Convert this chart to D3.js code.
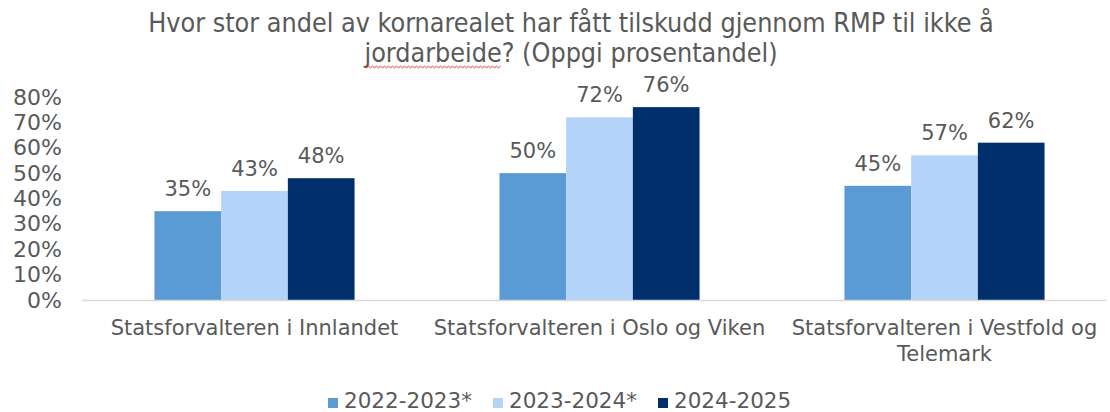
<!DOCTYPE html>
<html>
<head>
<meta charset="utf-8">
<script src="https://cdn.jsdelivr.net/npm/d3@7"></script>
<style>
  body { margin: 0; background: #fff; }
  svg text { font-family: "DejaVu Sans", Verdana, sans-serif; fill: #595959; }
</style>
</head>
<body>
<div id="chart"></div>
<script>
const categories = [
  ["Statsforvalteren i Innlandet"],
  ["Statsforvalteren i Oslo og Viken"],
  ["Statsforvalteren i Vestfold og", "Telemark"]
];
const seriesNames = ["2022-2023*", "2023-2024*", "2024-2025"];
const seriesValues = [
  [35, 50, 45],
  [43, 72, 57],
  [48, 76, 62]
];
const yTicks = [0, 10, 20, 30, 40, 50, 60, 70, 80];
const COLORS = ["#5B9BD5", "#B4D3F8", "#002F6C"];

const W = 1110, H = 412;
const svg = d3.select("#chart").append("svg")
  .attr("width", W).attr("height", H);

// title
const titleFont = "'DejaVu Sans Condensed', 'DejaVu Sans', sans-serif";
const title = svg.append("g").attr("class", "title");
title.append("text")
  .attr("x", 571).attr("y", 32)
  .attr("text-anchor", "middle")
  .attr("font-size", 26.7)
  .style("font-stretch", "condensed")
  .style("font-family", titleFont)
  .text("Hvor stor andel av kornarealet har fått tilskudd gjennom RMP til ikke å");
const t2 = title.append("text")
  .attr("x", 571).attr("y", 62)
  .attr("text-anchor", "middle")
  .attr("font-size", 26.7)
  .style("font-stretch", "condensed")
  .style("font-family", titleFont);
const word = t2.append("tspan").text("jordarbeide");
t2.append("tspan").text("? (Oppgi prosentandel)");

// spell-check squiggle under "jordarbeide"
const full = t2.node().getBBox();
const wLen = word.node().getComputedTextLength();
const sx = full.x, sy = 67;
let sq = `M${sx},${sy}`;
for (let i = 0; i * 2 < wLen; i++) sq += ` L${sx + i * 2 + 1},${sy + (i % 2 ? 1.2 : -1.2)}`;
svg.append("path").attr("d", sq).attr("fill", "none")
  .attr("stroke", "#E04040").attr("stroke-width", 0.9);

const y = d3.scaleLinear().domain([0, 80]).range([300, 97]);
const x0 = d3.scaleBand().domain(d3.range(categories.length))
  .range([82, 1117]).paddingInner(0.42).paddingOuter(0.21);
const x1 = d3.scaleBand().domain(d3.range(seriesNames.length))
  .range([0, x0.bandwidth()]);

// y axis labels
const yAxis = svg.append("g").attr("transform", "translate(62,0)")
  .call(d3.axisLeft(y).tickValues(yTicks).tickSize(0).tickPadding(0).tickFormat(d => d + "%"));
yAxis.select(".domain").remove();
yAxis.selectAll("text").attr("font-size", 22)
  .style("font-family", "'DejaVu Sans', sans-serif").attr("fill", "#595959");

// bars
seriesNames.forEach((s, si) => {
  const g = svg.append("g");
  g.selectAll("rect").data(seriesValues[si]).join("rect")
    .attr("x", (d, i) => x0(i) + x1(si))
    .attr("width", x1.bandwidth())
    .attr("y", d => y(d))
    .attr("height", d => y(0) - y(d))
    .attr("fill", COLORS[si]);
  g.selectAll("text").data(seriesValues[si]).join("text")
    .attr("x", (d, i) => x0(i) + x1(si) + x1.bandwidth() / 2)
    .attr("y", d => y(d) - 15)
    .attr("text-anchor", "middle")
    .attr("font-size", 21)
    .text(d => d + "%");
});

// baseline
svg.append("line")
  .attr("x1", 82).attr("x2", 1106)
  .attr("y1", y(0) + 0.5).attr("y2", y(0) + 0.5)
  .attr("stroke", "#D9D9D9").attr("stroke-width", 1.5);

// category labels
categories.forEach((lines, i) => {
  const t = svg.append("text")
    .attr("x", x0(i) + x0.bandwidth() / 2)
    .attr("y", 335)
    .attr("text-anchor", "middle")
    .attr("font-size", 21);
  lines.forEach((l, li) => t.append("tspan")
    .attr("x", x0(i) + x0.bandwidth() / 2)
    .attr("dy", li ? 26 : 0).text(l));
});

// legend
const legendX = [328, 493, 658];
const leg = svg.append("g");
seriesNames.forEach((s, i) => {
  leg.append("rect").attr("x", legendX[i]).attr("y", 398)
    .attr("width", 10).attr("height", 10).attr("fill", COLORS[i]);
  leg.append("text").attr("x", legendX[i] + 16).attr("y", 408)
    .attr("font-size", 21.5).text(s);
});
</script>
</body>
</html>
